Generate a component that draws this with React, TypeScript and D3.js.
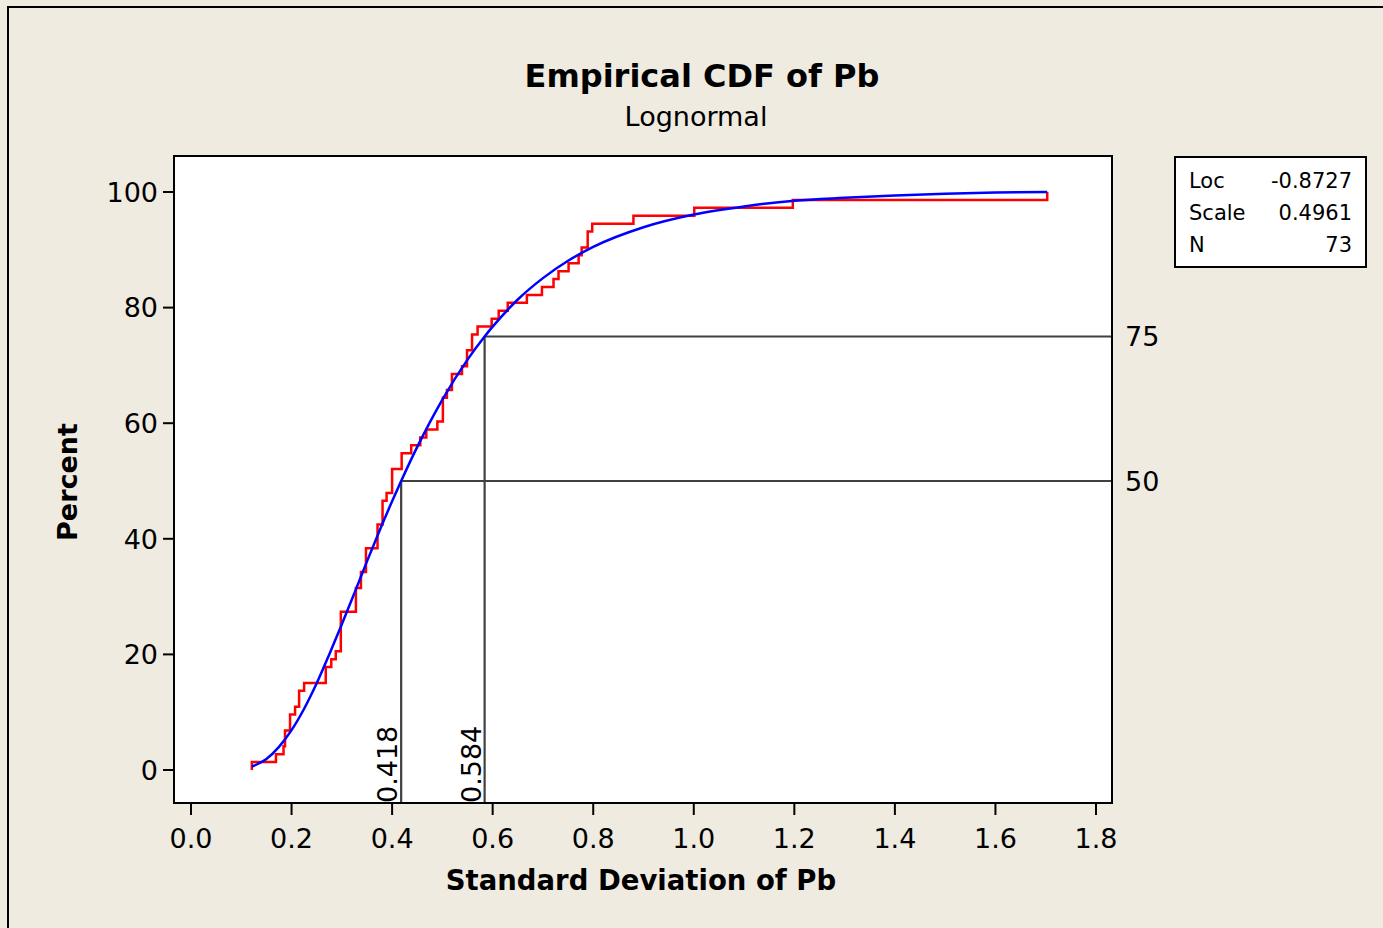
import React from "react";
import * as d3 from "d3";

// Sorted sample values of Pb (standard deviation), N = 73, read from the step function
const pbValues: number[] = [
  0.121, 0.169, 0.184, 0.187, 0.187, 0.197, 0.197, 0.207, 0.215, 0.215,
  0.225, 0.268, 0.268, 0.279, 0.288, 0.298, 0.298, 0.298, 0.298, 0.298,
  0.328, 0.328, 0.328, 0.338, 0.338, 0.348, 0.348, 0.348, 0.371, 0.371,
  0.371, 0.381, 0.381, 0.381, 0.389, 0.4, 0.4, 0.4, 0.419, 0.419,
  0.438, 0.456, 0.468, 0.49, 0.501, 0.501, 0.501, 0.509, 0.519, 0.519,
  0.539, 0.549, 0.549, 0.559, 0.559, 0.57, 0.598, 0.612, 0.63, 0.668,
  0.698, 0.721, 0.731, 0.751, 0.771, 0.777, 0.789, 0.789, 0.798, 0.88,
  1.001, 1.197, 1.703,
];

// Fitted lognormal CDF
const fitX: number[] = [
  0.121, 0.15, 0.175, 0.2, 0.225, 0.25, 0.275, 0.3, 0.325, 0.35, 0.375, 0.4,
  0.418, 0.45, 0.5, 0.55, 0.584, 0.6, 0.65, 0.7, 0.75, 0.8, 0.9, 1.0, 1.1,
  1.2, 1.3, 1.4, 1.5, 1.6, 1.703,
];
const fitPct: number[] = [
  0.6, 1.9, 4.0, 6.9, 10.6, 15.0, 20.0, 25.2, 30.6, 36.1, 41.4, 46.5,
  50.0, 55.9, 64.1, 71.0, 75.0, 76.7, 81.4, 85.1, 88.1, 90.5, 93.9, 96.1, 97.5,
  98.5, 99.0, 99.4, 99.7, 99.9, 100.0,
];

const xTicks: number[] = [0, 0.2, 0.4, 0.6, 0.8, 1.0, 1.2, 1.4, 1.6, 1.8];
const yTicks: number[] = [0, 20, 40, 60, 80, 100];
const refPercents: number[] = [50, 75];
const refValues: number[] = [0.418, 0.584];
const legendLabels: string[] = ["Loc", "Scale", "N"];
const legendValues: string[] = ["-0.8727", "0.4961", "73"];

const W = 1383;
const H = 928;
const plot = { left: 174, right: 1112, top: 156, bottom: 803 };
const FONT = "'DejaVu Sans', Verdana, sans-serif";

export default function App() {
  const x = d3.scaleLinear().domain([0, 1.8]).range([191, 1096]);
  const y = d3.scaleLinear().domain([0, 100]).range([770, 192]);

  const n = pbValues.length;
  let stepD = "";
  pbValues.forEach((v, i) => {
    const px = x(v);
    if (i === 0) stepD += `M${px},${y(0)}`;
    else stepD += `H${px}`;
    stepD += `V${y(((i + 1) / n) * 100)}`;
  });

  const fitLine = d3
    .line<number>()
    .x((_, i) => x(fitX[i]))
    .y((d) => y(d))
    .curve(d3.curveMonotoneX);
  const fitD = fitLine(fitPct) || "";

  const refColor = "#404040";

  return (
    <svg
      width={W}
      height={H}
      style={{ position: "absolute", left: 0, top: 0, display: "block" }}
      fontFamily={FONT}
    >
      <rect x={0} y={0} width={W} height={H} fill="#EFEBE0" />
      <rect x={8} y={7} width={W + 20} height={H + 20} fill="#EFEBE0" stroke="#000" strokeWidth={2} />

      {/* Title */}
      <text x={702} y={87} textAnchor="middle" fontSize={32} fontWeight="bold" fill="#000">
        Empirical CDF of Pb
      </text>
      <text x={696} y={126} textAnchor="middle" fontSize={27} fill="#000">
        Lognormal
      </text>

      {/* Plot area */}
      <rect
        x={plot.left}
        y={plot.top}
        width={plot.right - plot.left}
        height={plot.bottom - plot.top}
        fill="#fff"
      />

      {/* Reference lines */}
      {refPercents.map((p, i) => (
        <g key={"ref" + i}>
          <line
            x1={x(refValues[i])}
            x2={plot.right}
            y1={y(p)}
            y2={y(p)}
            stroke={refColor}
            strokeWidth={2.2}
          />
          <line
            x1={x(refValues[i])}
            x2={x(refValues[i])}
            y1={y(p)}
            y2={plot.bottom}
            stroke={refColor}
            strokeWidth={2.2}
          />
          <text
            transform={`translate(${x(refValues[i]) - 4},${plot.bottom}) rotate(-90)`}
            fontSize={27}
            fill="#000"
          >
            {refValues[i].toFixed(3)}
          </text>
          <text x={plot.right + 13} y={y(p)} dy="0.36em" fontSize={27} fill="#000">
            {p}
          </text>
        </g>
      ))}

      {/* ECDF step */}
      <path d={stepD} fill="none" stroke="#FF0000" strokeWidth={2.5} />
      {/* Fitted CDF */}
      <path d={fitD} fill="none" stroke="#0000FF" strokeWidth={2.5} />

      {/* Plot frame */}
      <rect
        x={plot.left}
        y={plot.top}
        width={plot.right - plot.left}
        height={plot.bottom - plot.top}
        fill="none"
        stroke="#000"
        strokeWidth={2}
      />

      {/* Y axis ticks */}
      {yTicks.map((t) => (
        <g key={"y" + t}>
          <line x1={plot.left - 11} x2={plot.left} y1={y(t)} y2={y(t)} stroke="#000" strokeWidth={2} />
          <text x={plot.left - 16} y={y(t)} dy="0.36em" textAnchor="end" fontSize={27} fill="#000">
            {t}
          </text>
        </g>
      ))}

      {/* X axis ticks */}
      {xTicks.map((t) => (
        <g key={"x" + t}>
          <line x1={x(t)} x2={x(t)} y1={plot.bottom} y2={plot.bottom + 12} stroke="#000" strokeWidth={2} />
          <text x={x(t)} y={848} textAnchor="middle" fontSize={27} fill="#000">
            {t.toFixed(1)}
          </text>
        </g>
      ))}

      {/* Axis labels */}
      <text x={641} y={890} textAnchor="middle" fontSize={27.5} fontWeight="bold" fill="#000">
        Standard Deviation of Pb
      </text>
      <text
        transform={`translate(77,482) rotate(-90)`}
        textAnchor="middle"
        fontSize={27}
        fontWeight="bold"
        fill="#000"
      >
        Percent
      </text>

      {/* Legend box */}
      <rect x={1175} y={157} width={191} height={110} fill="#fff" stroke="#000" strokeWidth={2} />
      {legendLabels.map((lab, i) => (
        <g key={"leg" + i}>
          <text x={1189} y={188 + i * 32} fontSize={21} fill="#000">
            {lab}
          </text>
          <text x={1352} y={188 + i * 32} textAnchor="end" fontSize={21} fill="#000">
            {legendValues[i]}
          </text>
        </g>
      ))}
    </svg>
  );
}
